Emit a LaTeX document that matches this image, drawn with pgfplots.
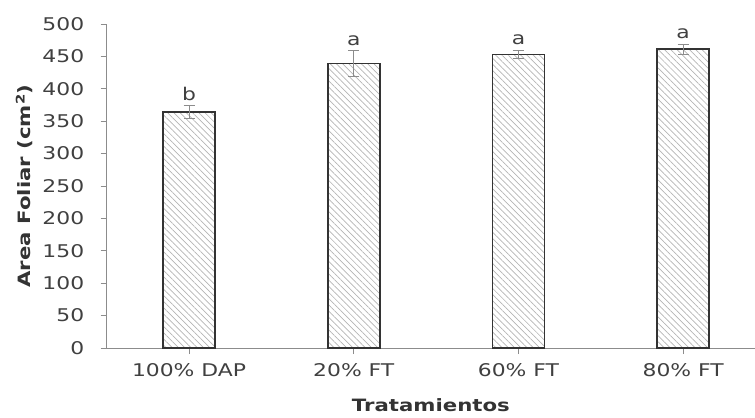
\documentclass[border=0pt]{standalone}
\usepackage{fontspec}
\setmainfont{DejaVu Sans}[FakeStretch=1.25]
\usepackage{pgfplots}
\pgfplotsset{compat=1.18}
\usetikzlibrary{patterns.meta}
\definecolor{tickc}{HTML}{404040}
\definecolor{axc}{HTML}{8C8C8C}
\definecolor{barc}{HTML}{333333}
\definecolor{hatch}{HTML}{B4B4B4}
\begin{document}
\begin{tikzpicture}
\path[use as bounding box] (0,0) rectangle (755bp,418bp);
\begin{axis}[
  at={(106.7bp,70bp)}, anchor=south west,
  scale only axis, width=648.3bp, height=324bp,
  xmin=-0.5, xmax=3.436, ymin=0, ymax=500,
  axis x line=bottom, axis y line=left,
  axis line style={axc, line width=1bp, -},
  ytick={0,50,...,500},
  xtick={0,1,2,3},
  xticklabels={100\% DAP,20\% FT,60\% FT,80\% FT},
  tick style={axc, line width=1bp},
  major tick length=6bp,
  tick align=outside,
  /pgf/number format/assume math mode=true,
  tick label style={font=\fontsize{17.5bp}{20bp}\selectfont, text=tickc},
  yticklabel style={xshift=-13bp},
  xticklabel style={yshift=-6bp},
  xlabel={\bfseries Tratamientos},
  ylabel={\bfseries Area Foliar (cm\textsuperscript{2})},
  label style={font=\fontsize{17bp}{20bp}\selectfont\bfseries, text=barc},
  xlabel style={at={(axis description cs:0.5,0)}, anchor=center, yshift=-57bp},
  ylabel style={at={(axis description cs:-0.127,0.5)}, anchor=center},
  clip=false,
]
\addplot[ybar, bar width=52bp, draw=barc, line width=1.6bp,
  pattern={Lines[angle=-45, distance=4.4bp, line width=0.7bp]}, pattern color=hatch,
  error bars/.cd, y dir=both, y explicit,
  error bar style={axc, line width=1.1bp},
  error mark options={rotate=90, mark size=5.5bp, axc, line width=1.1bp}]
coordinates {
  (0,364) +- (0,10)
  (1,439) +- (0,20)
  (2,453) +- (0,6.5)
  (3,461) +- (0,8)
};
\addplot[only marks, mark=none, nodes near coords, point meta=explicit symbolic,
  nodes near coords style={anchor=south, inner sep=0pt, yshift=5bp,
    font=\fontsize{17.5bp}{20bp}\selectfont, text=tickc}]
coordinates {
  (0,374) [b]
  (1,459) [a]
  (2,459.5) [a]
  (3,469) [a]
};
\end{axis}
\end{tikzpicture}
\end{document}
